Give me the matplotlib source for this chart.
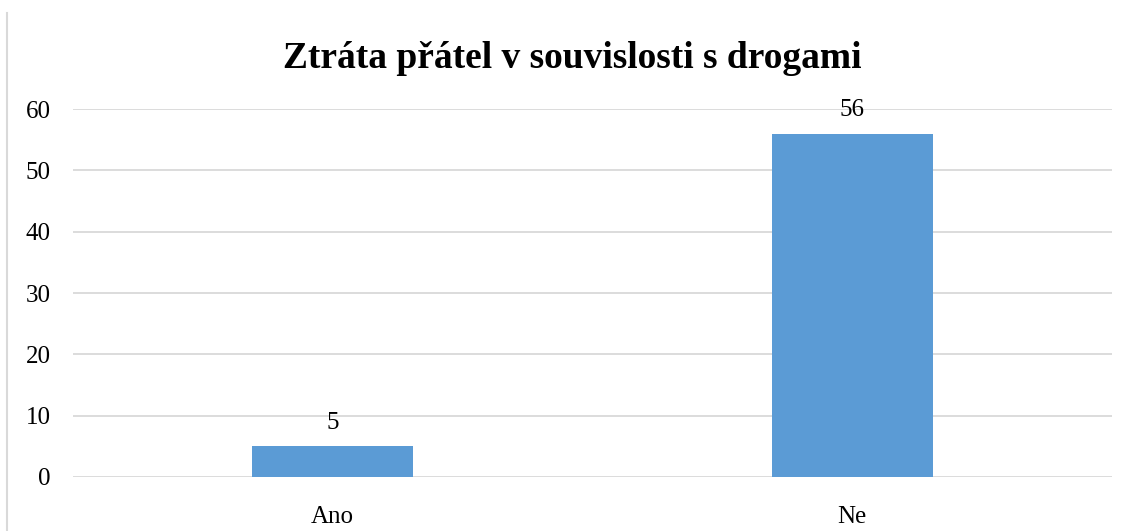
import matplotlib.pyplot as plt
from matplotlib.lines import Line2D

categories = ["Ano", "Ne"]
values = [5, 56]
title = "Ztráta přátel v souvislosti s drogami"
y_ticks = [0, 10, 20, 30, 40, 50, 60]

plt.rcParams['font.family'] = ['Liberation Serif', 'DejaVu Serif']

fig = plt.figure(figsize=(11.31, 5.31), dpi=100)
ax = fig.add_axes([0.0645, 0.1017, 0.9187, 0.693])

x = range(len(categories))
bars = ax.bar(x, values, width=0.31, color="#5B9BD5", zorder=3)
for rect, v in zip(bars, values):
    ax.annotate(str(v), xy=(rect.get_x() + rect.get_width() / 2, v),
                xytext=(0, 17), textcoords="offset points",
                ha="center", va="center", fontsize=18, color="#000000")

ax.set_xlim(-0.5, 1.5)
ax.set_ylim(0, 60)
ax.set_yticks(y_ticks)
ax.set_xticks(list(x))
ax.set_xticklabels(categories)
ax.yaxis.grid(True, color="#D9D9D9", linewidth=1.3, zorder=0)
ax.set_axisbelow(True)
for s in ax.spines.values():
    s.set_visible(False)
ax.tick_params(axis="both", length=0, labelsize=18, colors="#000000")
ax.tick_params(axis="y", pad=16)
ax.tick_params(axis="x", pad=21)

fig.text(0.506, 0.89, title, ha="center", va="center", fontsize=27, fontweight="bold")
fig.add_artist(Line2D([7 / 1131, 7 / 1131], [0, 1 - 13 / 531], transform=fig.transFigure,
                      color="#D9D9D9", linewidth=1.5))

fig.savefig("out.png", dpi=100)
